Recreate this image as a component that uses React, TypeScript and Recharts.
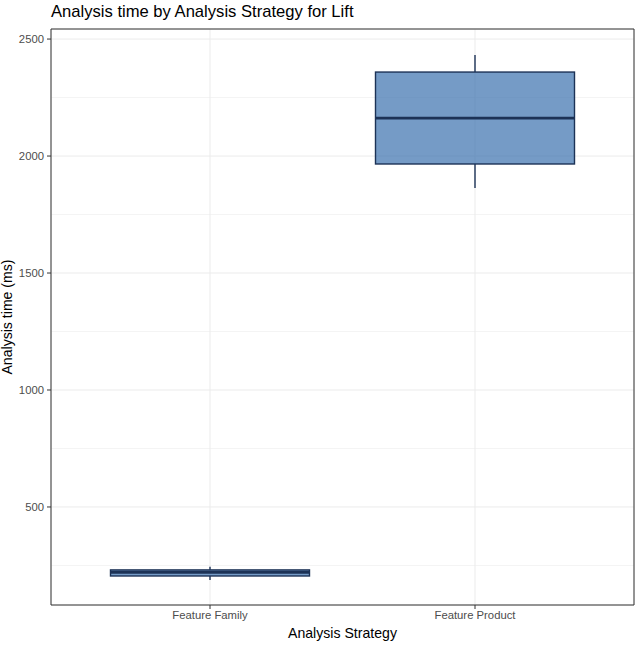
import { ComposedChart, Bar, XAxis, YAxis, CartesianGrid } from 'recharts';

// five-number summaries per strategy (ms)
const strategies = ['Feature Family', 'Feature Product'];
const whiskerLow = [188, 1863];
const lowerQuartile = [205, 1966];
const medians = [221, 2162];
const upperQuartile = [231, 2359];
const whiskerHigh = [245, 2432];

const yTicks = [500, 1000, 1500, 2000, 2500];
const minorTicks = [250, 750, 1250, 1750, 2250];
const yDomain = [81, 2543];

const FONT = '"Liberation Sans", Arial, Helvetica, sans-serif';
const BOX_FILL = '#3b70ae';
const BOX_STROKE = '#1c3256';
const PANEL_BORDER = '#333333';

const rows = strategies.map((name, i) => ({
  name,
  range: [whiskerLow[i], whiskerHigh[i]],
  q1: lowerQuartile[i],
  median: medians[i],
  q3: upperQuartile[i],
}));

// The bar spans the whiskers; box and median are placed along that same scaled span.
function BoxShape(props: any) {
  const { x, y, width, height, payload } = props;
  const [lo, hi] = payload.range;
  const top = Math.min(y, y + height);
  const h = Math.abs(height);
  const toPx = (v: number) => top + ((hi - v) / (hi - lo)) * h;
  const cx = x + width / 2;
  const yq3 = toPx(payload.q3);
  const yq1 = toPx(payload.q1);
  const ymed = toPx(payload.median);
  return (
    <g>
      <line x1={cx} x2={cx} y1={top} y2={yq3} stroke={BOX_STROKE} strokeWidth={1.4} />
      <line x1={cx} x2={cx} y1={yq1} y2={top + h} stroke={BOX_STROKE} strokeWidth={1.4} />
      <rect x={x} y={yq3} width={width} height={yq1 - yq3} fill={BOX_FILL} fillOpacity={0.7}
            stroke={BOX_STROKE} strokeWidth={1.4} />
      <line x1={x} x2={x + width} y1={ymed} y2={ymed} stroke={BOX_STROKE} strokeWidth={2.8} />
    </g>
  );
}

const tickStyle = { fontSize: 11.3, fill: '#4d4d4d', fontFamily: FONT };

export default function App() {
  return (
    <div style={{ position: 'absolute', left: 0, top: 0, width: 639, height: 645, background: '#fff', fontFamily: FONT }}>
      <div style={{ position: 'absolute', left: 51, top: 2, fontSize: 16.6, color: '#000', whiteSpace: 'nowrap' }}>
        Analysis time by Analysis Strategy for Lift
      </div>
      <ComposedChart width={639} height={645} data={rows} margin={{ top: 28, right: 4, left: 0, bottom: 0 }}>
        <CartesianGrid vertical={false} horizontalValues={minorTicks} stroke="#f4f4f4" strokeWidth={1} />
        <CartesianGrid stroke="#ebebeb" strokeWidth={1} />
        <XAxis dataKey="name" type="category" height={40} padding={{ left: 26.5, right: 26.5 }}
               tick={tickStyle} tickSize={4} tickMargin={2} axisLine={{ stroke: PANEL_BORDER }}
               tickLine={{ stroke: PANEL_BORDER }}
               label={{
                 content: (p: any) => (
                   <text x={p.viewBox.x + p.viewBox.width / 2} y={p.viewBox.y + 33} textAnchor="middle"
                         fontSize={14.1} fill="#000" fontFamily={FONT}>Analysis Strategy</text>
                 ),
               }} />
        <XAxis xAxisId="top" dataKey="name" orientation="top" height={1} tick={false} tickLine={false}
               axisLine={{ stroke: PANEL_BORDER }} />
        <YAxis type="number" domain={yDomain} allowDataOverflow ticks={yTicks} width={51}
               tick={tickStyle} tickSize={4} tickMargin={3} axisLine={{ stroke: PANEL_BORDER }}
               tickLine={{ stroke: PANEL_BORDER }}
               label={{
                 content: (p: any) => {
                   const cy = p.viewBox.y + p.viewBox.height / 2;
                   return (
                     <text x={12} y={cy} transform={`rotate(-90 12 ${cy})`} textAnchor="middle"
                           fontSize={14.1} fill="#000" fontFamily={FONT}>Analysis time (ms)</text>
                   );
                 },
               }} />
        <YAxis yAxisId="right" orientation="right" type="number" domain={yDomain} allowDataOverflow
               width={1} tick={false} tickLine={false} axisLine={{ stroke: PANEL_BORDER }} />
        <Bar dataKey="range" barSize={199} shape={<BoxShape />} isAnimationActive={false} />
      </ComposedChart>
    </div>
  );
}
